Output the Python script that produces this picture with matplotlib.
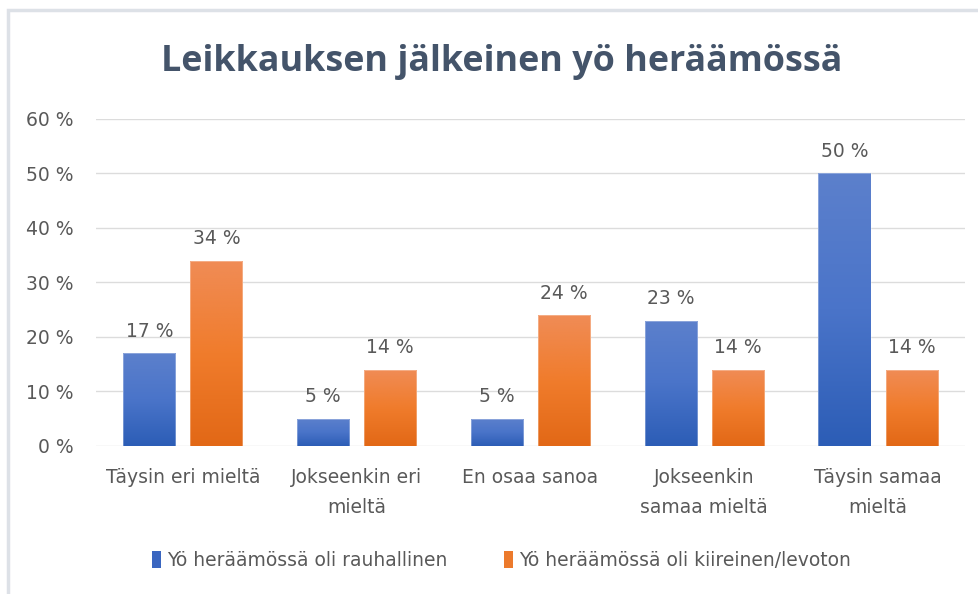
import matplotlib
matplotlib.use("Agg")
import matplotlib.pyplot as plt
import numpy as np
from matplotlib.colors import LinearSegmentedColormap
from matplotlib.patches import Rectangle, Patch

categories = ["Täysin eri mieltä", "Jokseenkin eri\nmieltä", "En osaa sanoa",
              "Jokseenkin\nsamaa mieltä", "Täysin samaa\nmieltä"]
rauhallinen = [17, 5, 5, 23, 50]
kiireinen = [34, 14, 24, 14, 14]
series_names = ["Yö heräämössä oli rauhallinen", "Yö heräämössä oli kiireinen/levoton"]
yticks = [0, 10, 20, 30, 40, 50, 60]

plt.rcParams['font.family'] = ['DejaVu Sans']
TXT = '#595959'
FS = 13.5

fig = plt.figure(figsize=(9.79, 5.94), dpi=100)
ax = fig.add_axes([0.098, 0.2492, 0.8877, 0.5505])

x = np.arange(len(categories))
w = 0.30
off = 0.193
b1 = ax.bar(x - off, rauhallinen, w, color='#4472c4', edgecolor='none', zorder=2)
b2 = ax.bar(x + off, kiireinen, w, color='#ed7d31', edgecolor='none', zorder=2)

cmap_b = LinearSegmentedColormap.from_list('b', ['#2c5db6', '#4a74c9', '#5c80cc'])
cmap_o = LinearSegmentedColormap.from_list('o', ['#e26816', '#f07c2c', '#f08c56'])
grad = np.linspace(0, 1, 256).reshape(-1, 1)
for bars, cm in ((b1, cmap_b), (b2, cmap_o)):
    for p in bars:
        x0, y0 = p.get_x(), p.get_y()
        ww, hh = p.get_width(), p.get_height()
        p.set_facecolor('none')
        im = ax.imshow(grad, extent=[x0, x0 + ww, y0, y0 + hh], origin='lower',
                       aspect='auto', cmap=cm, zorder=2.5)
        im.set_clip_path(p)
        ax.add_patch(Rectangle((x0, y0), ww, hh, fill=False, edgecolor='#ffffff',
                               lw=0.6, alpha=0.35, zorder=3))

for bars, vals in ((b1, rauhallinen), (b2, kiireinen)):
    for p, v in zip(bars, vals):
        ax.annotate(f"{v} %", (p.get_x() + p.get_width() / 2, v), xytext=(0, 9),
                    textcoords='offset points', ha='center', va='bottom',
                    fontsize=FS, color=TXT)

ax.set_xlim(-0.5, len(categories) - 0.5)
ax.set_ylim(0, 60)
ax.set_yticks(yticks)
ax.set_yticklabels([f"{t} %" for t in yticks])
ax.set_xticks(x)
ax.set_xticklabels(categories, linespacing=1.7)
ax.tick_params(axis='both', length=0, labelsize=FS, labelcolor=TXT)
ax.tick_params(axis='y', pad=16)
ax.tick_params(axis='x', pad=16)
ax.grid(axis='y', color='#dcdcdc', lw=1.0, zorder=0)
ax.set_axisbelow(True)
for s in ax.spines.values():
    s.set_visible(False)
ax.set_xlim(-0.5, len(categories) - 0.5)
ax.set_ylim(0, 60)

fig.text(0.512, 0.895, "Leikkauksen jälkeinen yö heräämössä", ha='center', va='center',
         fontsize=25.8, fontweight='bold', color='#44546a', family=['Open Sans', 'DejaVu Sans'])

handles = [Patch(facecolor='#3a66c0'), Patch(facecolor='#ec7a2c')]
fig.legend(handles, series_names, loc='center', bbox_to_anchor=(0.512, 0.057), ncol=2,
           frameon=False, fontsize=FS, labelcolor=TXT, handlelength=0.5, handleheight=1.0,
           handletextpad=0.3, columnspacing=3.0)

fig.add_artist(Rectangle((8 / 979, -0.1), 2, 1.1 - 10 / 594, transform=fig.transFigure,
                         fill=False, edgecolor='#dde1e7', lw=2.5))

fig.savefig("out.png", dpi=100, facecolor='white')
